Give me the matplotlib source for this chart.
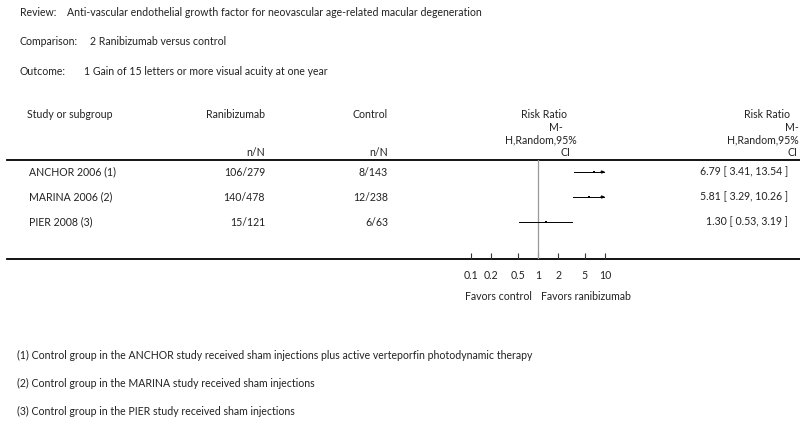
import matplotlib
matplotlib.use("Agg")
import matplotlib.pyplot as plt
import numpy as np

plt.rcParams['font.family'] = ['Lato', 'DejaVu Sans']

review = "Anti-vascular endothelial growth factor for neovascular age-related macular degeneration"
comparison = "2 Ranibizumab versus control"
outcome = "1 Gain of 15 letters or more visual acuity at one year"

studies = ["ANCHOR 2006 (1)", "MARINA 2006 (2)", "PIER 2008 (3)"]
treat_nN = ["106/279", "140/478", "15/121"]
ctrl_nN = ["8/143", "12/238", "6/63"]
rr = [6.79, 5.81, 1.30]
ci_lo = [3.41, 3.29, 0.53]
ci_hi = [13.54, 10.26, 3.19]
ticks = [0.1, 0.2, 0.5, 1, 2, 5, 10]
tick_labels = ["0.1", "0.2", "0.5", "1", "2", "5", "10"]
footnotes = [
    "(1) Control group in the ANCHOR study received sham injections plus active verteporfin photodynamic therapy",
    "(2) Control group in the MARINA study received sham injections",
    "(3) Control group in the PIER study received sham injections",
]

W, H = 800, 425
fig = plt.figure(figsize=(8, 4.25), dpi=100)
bg = fig.add_axes([0, 0, 1, 1])
bg.set_xlim(0, W)
bg.set_ylim(H, 0)
bg.axis('off')

tc = '#222222'
fs = 7.6

def t(x, y, s, ha='left', **kw):
    bg.text(x, y, s, ha=ha, va='center', fontsize=fs, color=tc, **kw)

# header info
t(20, 12, "Review:")
t(67, 12, review)
t(20, 41, "Comparison:")
t(90, 41, comparison)
t(20, 71, "Outcome:")
t(84, 71, outcome)

# column headers
t(27, 114, "Study or subgroup")
t(265, 114, "Ranibizumab", ha='right')
t(388, 114, "Control", ha='right')
t(265, 152, "n/N", ha='right')
t(388, 152, "n/N", ha='right')

t(567, 114, "Risk Ratio", ha='right')
t(563, 127, "M-", ha='right')
t(577, 140, "H,Random,95%", ha='right')
t(570, 152, "CI", ha='right')

t(790, 114, "Risk Ratio", ha='right')
t(799, 127, "M-", ha='right')
t(799, 140, "H,Random,95%", ha='right')
t(797, 152, "CI", ha='right')

# horizontal rules
bg.plot([7, 800], [160, 160], color='black', lw=1.3)
bg.plot([7, 800], [259, 259], color='black', lw=1.3)

row_y = [172 + 25 * i for i in range(len(studies))]
for i, y in enumerate(row_y):
    t(29, y, studies[i])
    t(265, y, treat_nN[i], ha='right')
    t(388, y, ctrl_nN[i], ha='right')
    t(788, y, f"{rr[i]:.2f} [ {ci_lo[i]:.2f}, {ci_hi[i]:.2f} ]", ha='right')

# forest axes
x0, x1 = 470.7, 605.0
fa = fig.add_axes([x0 / W, 1 - 259 / H, (x1 - x0) / W, (259 - 160) / H])
fa.set_xscale('log')
fa.set_xlim(0.1, 10)
fa.set_ylim(259, 160)
fa.patch.set_alpha(0)
for s in fa.spines.values():
    s.set_visible(False)
fa.set_yticks([])
fa.set_xticks(ticks)
fa.set_xticklabels(tick_labels)
fa.minorticks_off()
fa.tick_params(axis='x', direction='in', length=4, width=0.8, pad=8,
               labelsize=fs, labelcolor=tc, color='#333333')
fa.axvline(1, color='#999999', lw=0.9)

xmax = 10
for i, y in enumerate(row_y):
    lo, hi = ci_lo[i], ci_hi[i]
    if hi > xmax:
        fa.plot([lo, xmax * 0.97], [y, y], color='black', lw=0.7, clip_on=False)
        fa.annotate("", xy=(xmax, y), xytext=(xmax * 0.85, y),
                    arrowprops=dict(arrowstyle='-|>', color='black', lw=0.6,
                                    mutation_scale=4.5, shrinkA=0, shrinkB=0),
                    annotation_clip=False)
    else:
        fa.plot([lo, hi], [y, y], color='black', lw=0.7)
    fa.plot([rr[i]], [y], marker='s', ms=2.0, color='black', mew=0, clip_on=False)

# favors labels
t(498, 296, "Favors control", ha='center')
t(586, 296, "Favors ranibizumab", ha='center')

for j, f in enumerate(footnotes):
    t(17, 355 + 28 * j, f)

fig.savefig("out.png", dpi=100)
